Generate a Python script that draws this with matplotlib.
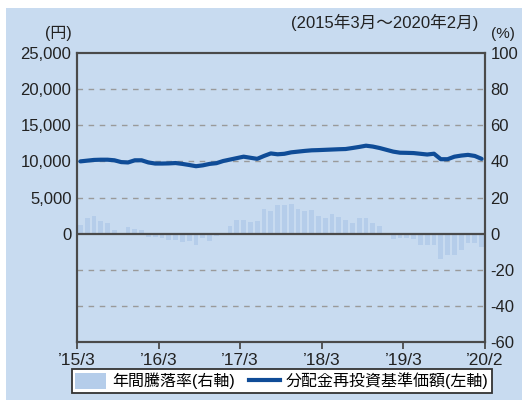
import numpy as np
import matplotlib.pyplot as plt
from matplotlib.patches import Rectangle, Patch
from matplotlib.lines import Line2D
from matplotlib.ticker import FuncFormatter

plt.rcParams['font.family'] = ['Liberation Sans', 'Noto Sans CJK JP', 'DejaVu Sans']
plt.rcParams['axes.unicode_minus'] = False

# monthly data, 2015/3 - 2020/2
# annual return (%), right axis
annual_return = [5.0, 8.7, 10.0, 6.9, 5.9, 1.9, 0.3, 3.7, 2.6, 1.9,
                 -1.9, -1.9, -2.4, -3.3, -3.3, -4.8, -4.3, -6.1, -2.4, -4.3,
                 -1.5, 0.3, 4.4, 7.4, 7.4, 6.3, 6.9, 13.7, 12.8, 15.6,
                 15.6, 16.5, 13.5, 12.8, 13.2, 9.8, 8.5, 10.9, 9.1, 7.4,
                 5.9, 8.9, 8.7, 5.9, 4.1, 0.2, -3.1, -2.2, -2.2, -2.8,
                 -6.1, -6.1, -6.1, -13.9, -12.0, -12.0, -9.3, -5.2, -5.2, -7.4]

# NAV with dividends reinvested (yen), left axis
nav = [10000, 10100, 10200, 10230, 10230, 10150, 9900, 9850, 10150, 10150,
       9850, 9700, 9700, 9720, 9770, 9650, 9500, 9330, 9450, 9650,
       9750, 10050, 10250, 10450, 10650, 10500, 10350, 10750, 11100, 10980,
       11050, 11250, 11350, 11450, 11530, 11560, 11600, 11640, 11680, 11710,
       11850, 12000, 12170, 12050, 11850, 11600, 11350, 11200, 11180, 11150,
       11050, 10950, 11060, 10300, 10300, 10650, 10800, 10900, 10750, 10350]

x_labels = ['’15/3', '’16/3', '’17/3', '’18/3', '’19/3', '’20/2']

months = np.arange(len(nav))
bar_col = '#b5cdea'
line_col = '#0f4c97'

fig = plt.figure(figsize=(5.28, 4.05), dpi=100)
fig.patch.set_facecolor('white')
# light blue panel behind the chart
fig.patches.append(Rectangle((6 / 528, 5 / 405), 516 / 528, 392 / 405,
                             transform=fig.transFigure, facecolor='#c8dbf0',
                             edgecolor='none', zorder=-10))

ax = fig.add_axes([77 / 528, 1 - 342 / 405, 408 / 528, 289 / 405])
ax2 = ax.twinx()
ax.set_zorder(ax2.get_zorder() + 1)
ax.patch.set_visible(False)
ax2.set_facecolor('white')

spine_col = '#4a4a4a'

# bars on the right axis
ax2.bar(months, annual_return, width=0.72, color=bar_col, zorder=2)
ax2.set_ylim(-60, 100)
ax2.set_yticks(np.arange(-60, 101, 20))
for v in [-40, -20, 20, 40, 60, 80]:
    ax2.axhline(v, color='#9a9a9a', lw=1, ls=(0, (4, 4)), zorder=1)
ax2.axhline(0, color=spine_col, lw=1.6, zorder=3)

# line on the left axis
ax.plot(months, nav, color=line_col, lw=3, solid_capstyle='round', zorder=4)
ax.set_ylim(-15000, 25000)
ax.set_yticks(np.arange(0, 25001, 5000))
ax.yaxis.set_major_formatter(FuncFormatter(lambda v, p: f'{int(v):,}'))

ax.set_xlim(-0.5, 59.5)
ax.set_xticks(np.arange(-0.5, 60, 12))
ax.set_xticklabels(x_labels)

for a in (ax, ax2):
    for s in a.spines.values():
        s.set_color(spine_col)
        s.set_linewidth(1.5)
    a.tick_params(axis='y', length=0, labelsize=12, colors='#222222', pad=4)
ax.tick_params(axis='x', length=5, width=1.3, color=spine_col, labelsize=12.5,
               labelcolor='#222222', pad=3, direction='out')

fig.text(72 / 528, 1 - 33 / 405, '(円)', ha='right', va='center', fontsize=11.5, color='#222222')
fig.text(503 / 528, 1 - 34 / 405, '(%)', ha='center', va='center', fontsize=11, color='#222222')
fig.text(478 / 528, 1 - 22 / 405, '(2015年3月～2020年2月)', ha='right', va='center',
         fontsize=12, color='#222222')

handles = [Patch(facecolor=bar_col, edgecolor='none'),
           Line2D([0], [0], color=line_col, lw=3)]
labels = ['年間騰落率(右軸)', '分配金再投資基準価額(左軸)']
leg = fig.legend(handles, labels, loc='center', bbox_to_anchor=(282 / 528, 1 - 381 / 405),
                 ncol=2, fontsize=11.5, frameon=True, fancybox=False, edgecolor='#333333',
                 framealpha=1, borderpad=0.2, handlelength=1.9, handleheight=1.1,
                 handletextpad=0.4, columnspacing=0.9, borderaxespad=0)
leg.get_frame().set_linewidth(1.3)

fig.savefig('out.png', dpi=100)
